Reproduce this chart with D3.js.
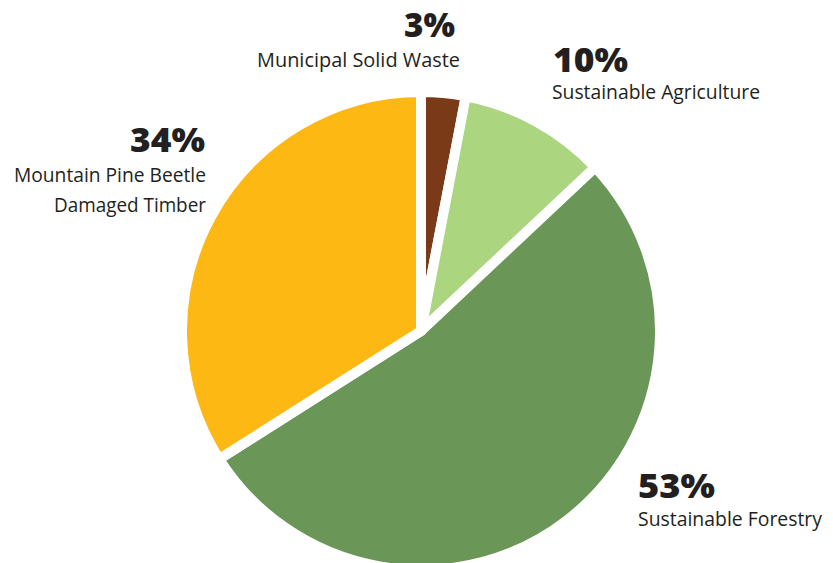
<!DOCTYPE html>
<html>
<head>
<meta charset="utf-8">
<script src="https://cdn.jsdelivr.net/npm/d3@7"></script>
<style>
  html, body { margin: 0; padding: 0; background: #ffffff; }
  svg { display: block; }
</style>
</head>
<body>
<svg id="chart" width="833" height="563"></svg>
<script>
// ---- data ----
const categories = ["Municipal Solid Waste", "Sustainable Agriculture", "Sustainable Forestry", "Mountain Pine Beetle Damaged Timber"];
const values = [3, 10, 53, 34];
const percentLabels = ["3%", "10%", "53%", "34%"];
const nameLines = [["Municipal Solid Waste"], ["Sustainable Agriculture"], ["Sustainable Forestry"], ["Mountain Pine Beetle", "Damaged Timber"]];
const colors = ["#7b3a17", "#acd580", "#6a9657", "#fdb814"];

// ---- layout ----
const W = 833, H = 563;
const cx = 421, cy = 331, outerR = 239;
// label layout: [x, percentBaseline, nameBaseline, anchor, percentWidth, nameWidths]
const labelLayout = [
  { x: 460, pctY: 37, nameY: 67, anchor: "end", pctDx: -5, pctW: 51, nameW: [203] },
  { x: 552, pctY: 72, nameY: 99, anchor: "start", pctDx: 1, pctW: 75, nameW: [208] },
  { x: 638, pctY: 498, nameY: 526, anchor: "start", pctDx: 0, pctW: 77, nameW: [184] },
  { x: 206, pctY: 152, nameY: 182, anchor: "end", pctDx: -1, pctW: 75, nameW: [192, 152] }
];

const svg = d3.select("#chart");
const g = svg.append("g").attr("transform", `translate(${cx},${cy})`);

const pie = d3.pie().sort(null).value(d => d);
const arcs = pie(values);
const arc = d3.arc().innerRadius(0).outerRadius(outerR);

g.selectAll("path.slice")
  .data(arcs)
  .join("path")
  .attr("class", "slice")
  .attr("d", arc)
  .attr("fill", (d, i) => colors[i])
  .attr("stroke", "#ffffff")
  .attr("stroke-width", 10)
  .attr("stroke-linejoin", "miter");

const labels = svg.append("g");
labelLayout.forEach((L, i) => {
  labels.append("text")
    .attr("x", L.x + L.pctDx)
    .attr("y", L.pctY)
    .attr("text-anchor", L.anchor)
    .attr("font-family", "'Open Sans', 'DejaVu Sans', sans-serif")
    .attr("font-weight", 800)
    .attr("font-size", 34)
    .attr("fill", "#231f20")
    .attr("textLength", L.pctW)
    .attr("lengthAdjust", "spacingAndGlyphs")
    .text(percentLabels[i]);
  nameLines[i].forEach((line, j) => {
    labels.append("text")
      .attr("x", L.x)
      .attr("y", L.nameY + j * 30)
      .attr("text-anchor", L.anchor)
      .attr("font-family", "'Open Sans', 'DejaVu Sans', sans-serif")
      .attr("font-weight", 400)
      .attr("font-size", 20)
      .attr("fill", "#231f20")
      .attr("textLength", L.nameW[j])
      .attr("lengthAdjust", "spacingAndGlyphs")
      .text(line);
  });
});
</script>
</body>
</html>
